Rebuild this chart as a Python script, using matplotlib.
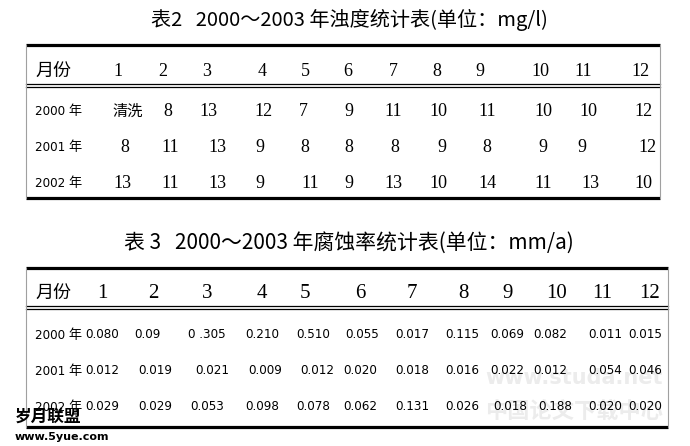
import matplotlib
matplotlib.use('Agg')
import matplotlib.pyplot as plt
from matplotlib import font_manager

plt.rcParams['font.family'] = ['Noto Sans CJK SC', 'DejaVu Sans']

months = [str(m) for m in range(1, 13)]
years = ['2000 年', '2001 年', '2002 年']

turbidity = [
    ['清洗', '8', '13', '12', '7', '9', '11', '10', '11', '10', '10', '12'],
    ['8', '11', '13', '9', '8', '8', '8', '9', '8', '9', '9', '12'],
    ['13', '11', '13', '9', '11', '9', '13', '10', '14', '11', '13', '10'],
]

corrosion = [
    ['0.080', '0.09', '0 .305', '0.210', '0.510', '0.055', '0.017', '0.115', '0.069', '0.082', '0.011', '0.015'],
    ['0.012', '0.019', '0.021', '0.009', '0.012', '0.020', '0.018', '0.016', '0.022', '0.012', '0.054', '0.046'],
    ['0.029', '0.029', '0.053', '0.098', '0.078', '0.062', '0.131', '0.026', '0.018', '0.188', '0.020', '0.020'],
]

title2 = '表2   2000～2003 年浊度统计表(单位：mg/l)'
title3 = '表 3   2000～2003 年腐蚀率统计表(单位：mm/a)'

# layout (pixel positions)
t2_head_x = [118, 163, 207, 262, 305, 348, 393, 437, 480, 540, 583, 640]
t2_row_x = [
    [128, 168, 208, 263, 303, 349, 393, 438, 487, 543, 588, 643],
    [125, 170, 217, 260, 305, 349, 395, 442, 487, 543, 582, 647],
    [122, 170, 217, 260, 310, 349, 393, 438, 487, 543, 590, 643],
]
t3_head_x = [102, 153, 207, 262, 305, 360, 412, 463, 508, 557, 602, 650]
t3_row_x = [
    [102, 147, 207, 262, 313, 362, 412, 462, 507, 550, 605, 645],
    [102, 155, 212, 265, 317, 360, 412, 462, 507, 550, 605, 645],
    [102, 155, 207, 262, 313, 360, 412, 462, 510, 555, 605, 645],
]

serif = ['Liberation Serif', 'DejaVu Serif']

# condensed face for the small numbers, if one is installed
have_cond = any('condensed' in str(f.stretch) or 'Condensed' in f.name
                for f in font_manager.fontManager.ttflist
                if f.name.startswith('DejaVu Sans'))
if have_cond:
    small = dict(family=['DejaVu Sans', 'Noto Sans CJK SC'], stretch='condensed', fontsize=9.5)
else:
    small = dict(family=['Liberation Sans', 'Noto Sans CJK SC'], fontsize=9)

fig = plt.figure(figsize=(6.9, 4.46), dpi=100)
ax = fig.add_axes([0, 0, 1, 1])
ax.set_xlim(0, 690)
ax.set_ylim(446, 0)
ax.axis('off')


def draw_table(title, title_y, top, head_y, rows_y, bottom, right,
               head_x, row_x, values, head_size, val_style, title_size):
    ax.text(349, title_y, title, ha='center', va='center', fontsize=title_size)
    ax.plot([26, right], [top, top], color='black', lw=2.3, solid_capstyle='butt')
    ax.plot([26, right], [head_y + 13, head_y + 13], color='black', lw=0.9)
    ax.plot([26, right], [head_y + 16, head_y + 16], color='black', lw=0.9)
    ax.plot([26, right], [bottom, bottom], color='black', lw=2.3, solid_capstyle='butt')
    ax.plot([26, 26], [top, bottom], color='#a0a0a0', lw=0.8)
    ax.plot([right, right], [top, bottom], color='#a0a0a0', lw=0.8)
    ax.text(35, head_y, '月份', ha='left', va='center', fontsize=13)
    for m, x in zip(months, head_x):
        ax.text(x, head_y, m, ha='center', va='center', fontsize=head_size,
                family=serif)
    for yr, y, xs, vals in zip(years, rows_y, row_x, values):
        ax.text(35, y, yr, ha='left', va='center', **small)
        for v, x in zip(vals, xs):
            if v == '清洗':
                ax.text(x, y, v, ha='center', va='center', fontsize=11)
            else:
                ax.text(x, y, v, ha='center', va='center', **val_style)


draw_table(title2, 20, 45, 71, [111, 147, 183], 198, 660,
           t2_head_x, t2_row_x, turbidity, 13, dict(family=serif, fontsize=13), 14.5)

# faint watermark behind table 3
ax.text(574, 378, 'www.studa.net', ha='center', va='center', fontsize=15,
        color='#ececec', weight='bold', family=['DejaVu Sans'], zorder=0)
ax.text(574, 412, '中国论文下载中心', ha='center', va='center', fontsize=16,
        color='#ececec', weight='bold', zorder=0)

draw_table(title3, 243, 268, 293, [335, 371, 407], 427, 668,
           t3_head_x, t3_row_x, corrosion, 15, small, 15)

# site stamp bottom-left
ax.text(15, 417, '岁月联盟', ha='left', va='center', fontsize=12, weight='bold')
ax.text(15, 437, 'www.5yue.com', ha='left', va='center', fontsize=8, weight='bold',
        family=['DejaVu Sans'])

fig.savefig('out.png', dpi=100)
